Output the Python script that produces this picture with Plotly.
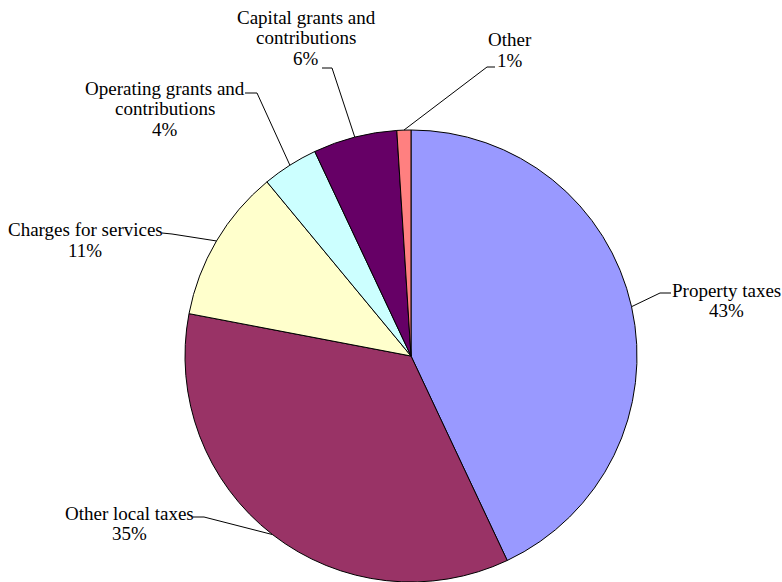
import math
import plotly.graph_objects as go

labels = ["Property taxes", "Other local taxes", "Charges for services",
          "Operating grants and contributions", "Capital grants and contributions", "Other"]
values = [43, 35, 11, 4, 6, 1]
label_lines = [["Property taxes"], ["Other local taxes"], ["Charges for services"],
               ["Operating grants and", "contributions"], ["Capital grants and", "contributions"],
               ["Other"]]
colors = ["#9999FF", "#993366", "#FFFFCC", "#CCFFFF", "#660066", "#FF8080"]

W, H = 782, 582
CX, CY, R = 411, 356, 226
LINE = 20.8

# label layout (pixels): text centre x / first line centre y, horizontal end of leader, elbow
text_pos = [(726, 290), (129, 513), (85, 230), (165, 88), (306, 17), (510, 40)]
leader_end = [(671, 293), (193, 517), (162, 233), (245, 93), (322, 68), (495, 67)]
leader_elbow = [(660, 293), (204, 517), (172, 234), (257, 93), (332, 68), (487, 67)]

fig = go.Figure(go.Pie(
    labels=labels, values=values, sort=False, direction="clockwise", rotation=0,
    marker=dict(colors=colors, line=dict(color="black", width=1)),
    textinfo="none", hoverinfo="label+percent", showlegend=False,
    domain=dict(x=[(CX - R) / W, (CX + R) / W], y=[0, 2 * R / H]),
))

def px(x):
    return x / W

def py(y):
    return 1 - y / H

total = sum(values)
cum = 0
shapes = []
annotations = []
for i, v in enumerate(values):
    mid = (cum + v / 2) / total * 2 * math.pi
    cum += v
    ex = CX + R * math.sin(mid)
    ey = CY - R * math.cos(mid)
    pct = round(v / total * 100)
    (tx, ty), (hx, hy), (bx, by) = text_pos[i], leader_end[i], leader_elbow[i]
    shapes.append(dict(type="path", xref="paper", yref="paper",
                       path=f"M {px(ex)},{py(ey)} L {px(bx)},{py(by)} L {px(hx)},{py(hy)}",
                       line=dict(color="black", width=1)))
    lines = label_lines[i] + [f"{pct}%"]
    for k, line in enumerate(lines):
        annotations.append(dict(xref="paper", yref="paper", x=px(tx), y=py(ty + k * LINE),
                                text=line, showarrow=False,
                                xanchor="center", yanchor="middle", align="center",
                                font=dict(family="Times New Roman, Liberation Serif, serif",
                                          size=19, color="black")))

fig.update_layout(width=W, height=H, margin=dict(l=0, r=0, t=0, b=0),
                  paper_bgcolor="white", plot_bgcolor="white",
                  shapes=shapes, annotations=annotations)
fig.write_html("out.html", config={"displayModeBar": False},
               post_script="document.body.style.margin='0';document.body.style.padding='0';")
